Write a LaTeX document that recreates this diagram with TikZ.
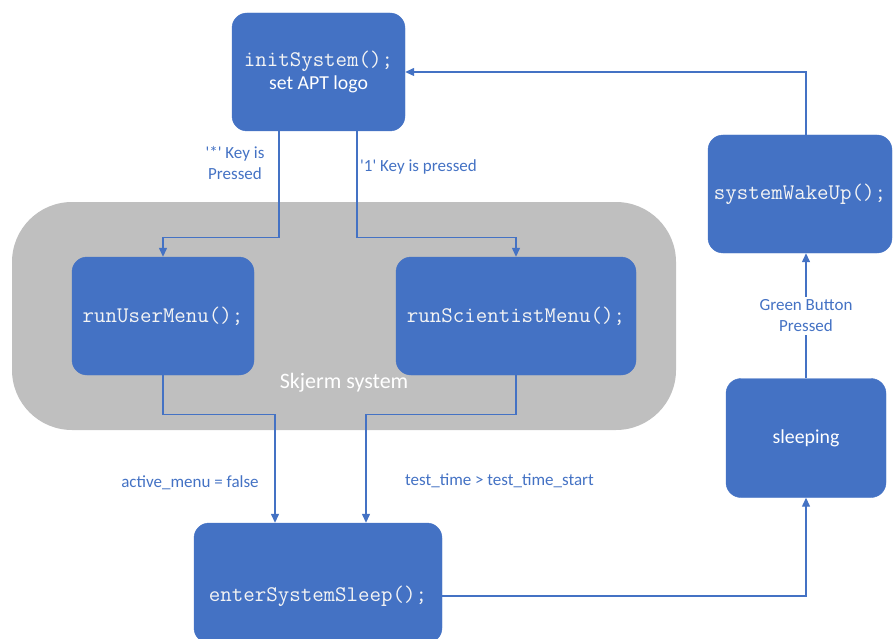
\documentclass[tikz,border=0pt]{standalone}
\usepackage{fontspec}
\setmainfont{Carlito}
\usetikzlibrary{arrows.meta}
\definecolor{boxblue}{HTML}{4472C4}
\definecolor{panelgray}{HTML}{BFBFBF}
\definecolor{codewhite}{HTML}{F4F4F4}
\newcommand{\codefont}{\ttfamily\fontsize{22.3}{25}\selectfont\color{codewhite}}
\newcommand{\boxfont}{\rmfamily\fontsize{19.8}{23}\selectfont}
\begin{document}
\begin{tikzpicture}[x=1pt,y=-1pt,
  state/.style={fill=boxblue, draw=boxblue, rounded corners=15pt, text=white, align=center, inner sep=0pt},
  flow/.style={draw=boxblue, line width=1.3pt, -{Triangle[length=9pt,width=8pt]}},
  cond/.style={text=boxblue, font=\fontsize{17}{21}\selectfont, align=center, inner sep=1pt}
]
\useasboundingbox (0,0) rectangle (893,639);

% grey panel holding both menus
\node[fill=panelgray, rounded corners=60pt, minimum width=664pt, minimum height=228pt, inner sep=0pt] (panel) at (344,316) {};
\node[text=white, font=\fontsize{22}{26}\selectfont] (paneltitle) at (344,383) {Skjerm system};

% states
\node[state, minimum width=173pt, minimum height=118pt] (init) at (318.5,72)
  {{\codefont initSystem();}\\[3pt]{\boxfont set APT logo}};
\node[state, minimum width=182pt, minimum height=118pt] (user) at (163,316) {\codefont runUserMenu();};
\node[state, minimum width=240pt, minimum height=118pt] (sci) at (516,316) {\codefont runScientistMenu();};
\node[state, minimum width=248pt, minimum height=120pt] (sleepbox) at (318,583) {};
\node[font=\codefont, inner sep=0pt] (sleeptxt) at (318,596) {enterSystemSleep();};
\node[state, minimum width=160pt, minimum height=119pt] (sleeping) at (806,438) {\boxfont sleeping};
\node[state, minimum width=184pt, minimum height=118pt] (wake) at (800,194) {\codefont systemWakeUp();};

% transitions
\draw[flow] ([xshift=-39.5pt]init.south) |- ([yshift=19pt]user.north) -- (user.north);
\draw[flow] ([xshift=38.5pt]init.south) |- ([yshift=19pt]sci.north) -- (sci.north);
\draw[flow] (user.south) |- ([xshift=-43pt,yshift=108pt]sleepbox.north) -- ([xshift=-43pt]sleepbox.north);
\draw[flow] (sci.south) |- ([xshift=48pt,yshift=108pt]sleepbox.north) -- ([xshift=48pt]sleepbox.north);
\draw[flow] (sleeptxt -| sleepbox.east) -| (sleeping.south);
\draw[flow] (sleeping.north) -- (sleeping.north |- wake.south);
\draw[flow] (sleeping.north |- wake.north) |- (init.east);

% transition conditions
\node[cond] (starlbl) at (235,163) {\textquotesingle*\textquotesingle{} Key is\\Pressed};
\node[cond, anchor=west] (onelbl) at (359,167) {\textquotesingle1\textquotesingle{} Key is pressed};
\node[cond] (menulbl) at (190,483) {active\_menu = false};
\node[cond, anchor=west] (timelbl) at (404,481) {test\_time > test\_time\_start};
\node[cond, fill=white, inner sep=3pt] (greenlbl) at (806,316) {Green Button\\Pressed};
\end{tikzpicture}
\end{document}
